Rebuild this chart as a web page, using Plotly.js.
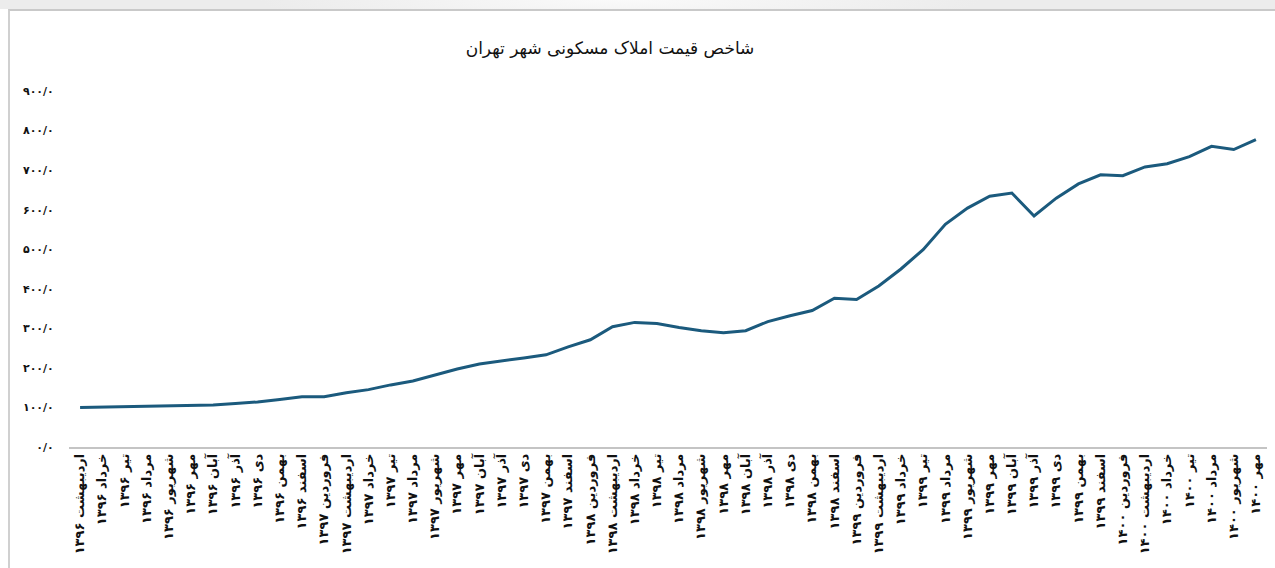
<!DOCTYPE html>
<html>
<head>
<meta charset="utf-8">
<script src="https://cdn.plot.ly/plotly-3.0.1.min.js"></script>
<style>
  html, body { margin: 0; padding: 0; background: #ffffff; }
  #wrap { position: relative; width: 1275px; height: 568px; overflow: hidden; }
  #strip { position: absolute; left: 0; top: 0; width: 1275px; height: 9px;
           background: radial-gradient(ellipse 360px 30px at 620px 0px, #fafafa 0%, #ececec 100%); }
  #frame { position: absolute; left: 8px; top: 9px; width: 1275px; height: 568px;
           border-top: 2px solid #c9c9c9; border-left: 2px solid #d0d0d0; box-sizing: border-box; }
  #chart { position: absolute; left: 0; top: 0; width: 1275px; height: 568px; }
</style>
</head>
<body>
<div id="wrap">
  <div id="strip"></div>
  <div id="frame"></div>
  <div id="chart"></div>
</div>
<script>
const titleText = "شاخص قیمت املاک مسکونی شهر تهران";

const monthLabels = [
  "اردیبهشت ۱۳۹۶","خرداد ۱۳۹۶","تیر ۱۳۹۶","مرداد ۱۳۹۶","شهریور ۱۳۹۶","مهر ۱۳۹۶",
  "آبان ۱۳۹۶","آذر ۱۳۹۶","دی ۱۳۹۶","بهمن ۱۳۹۶","اسفند ۱۳۹۶",
  "فروردین ۱۳۹۷","اردیبهشت ۱۳۹۷","خرداد ۱۳۹۷","تیر ۱۳۹۷","مرداد ۱۳۹۷","شهریور ۱۳۹۷",
  "مهر ۱۳۹۷","آبان ۱۳۹۷","آذر ۱۳۹۷","دی ۱۳۹۷","بهمن ۱۳۹۷","اسفند ۱۳۹۷",
  "فروردین ۱۳۹۸","اردیبهشت ۱۳۹۸","خرداد ۱۳۹۸","تیر ۱۳۹۸","مرداد ۱۳۹۸","شهریور ۱۳۹۸",
  "مهر ۱۳۹۸","آبان ۱۳۹۸","آذر ۱۳۹۸","دی ۱۳۹۸","بهمن ۱۳۹۸","اسفند ۱۳۹۸",
  "فروردین ۱۳۹۹","اردیبهشت ۱۳۹۹","خرداد ۱۳۹۹","تیر ۱۳۹۹","مرداد ۱۳۹۹","شهریور ۱۳۹۹",
  "مهر ۱۳۹۹","آبان ۱۳۹۹","آذر ۱۳۹۹","دی ۱۳۹۹","بهمن ۱۳۹۹","اسفند ۱۳۹۹",
  "فروردین ۱۴۰۰","اردیبهشت ۱۴۰۰","خرداد ۱۴۰۰","تیر ۱۴۰۰","مرداد ۱۴۰۰","شهریور ۱۴۰۰",
  "مهر ۱۴۰۰"
];

const priceIndex = [
  100, 101, 102, 103, 104, 105, 106, 110, 114, 120, 127,
  127, 137, 145, 157, 167, 182, 197, 210, 217, 225, 233, 253,
  271, 304, 315, 312, 302, 294, 289, 294, 317, 332, 345, 376,
  373, 407, 450, 499, 563, 604, 634, 642, 584, 629, 665, 688,
  686, 708, 716, 734, 760, 752, 777
];

const yTickVals = [0, 100, 200, 300, 400, 500, 600, 700, 800, 900];
const yTickText = ["۰/۰","۱۰۰/۰","۲۰۰/۰","۳۰۰/۰","۴۰۰/۰","۵۰۰/۰","۶۰۰/۰","۷۰۰/۰","۸۰۰/۰","۹۰۰/۰"];

const trace = {
  type: "scatter",
  mode: "lines",
  x: monthLabels,
  y: priceIndex,
  line: { color: "#1b5a7d", width: 3 },
  hoverinfo: "x+y"
};

const layout = {
  width: 1275,
  height: 568,
  margin: { l: 69, r: 8, t: 91, b: 121 },
  paper_bgcolor: "rgba(0,0,0,0)",
  plot_bgcolor: "rgba(0,0,0,0)",
  showlegend: false,
  font: { family: "DejaVu Sans, sans-serif", color: "#111111" },
  title: {
    text: titleText,
    font: { size: 17, color: "#111111", family: "DejaVu Sans, sans-serif" },
    x: 0.4516, xanchor: "center", xref: "paper",
    y: 0.915, yanchor: "middle", yref: "container"
  },
  xaxis: {
    type: "category",
    tickmode: "array",
    tickvals: monthLabels,
    ticktext: monthLabels.map(s => "<b>" + s + "</b>"),
    tickangle: -90,
    tickfont: { size: 13, color: "#111111" },
    showline: true,
    linecolor: "#c4c4c4",
    linewidth: 1.5,
    showgrid: false,
    zeroline: false,
    ticks: "",
    range: [-0.5, 53.5],
    fixedrange: true
  },
  yaxis: {
    range: [0, 900],
    tickmode: "array",
    tickvals: yTickVals,
    ticktext: yTickText.map(s => "<b>" + s + "</b>"),
    tickfont: { size: 11, color: "#111111" },
    showgrid: false,
    zeroline: false,
    showline: false,
    ticks: "outside",
    ticklen: 12,
    tickcolor: "rgba(0,0,0,0)",
    fixedrange: true
  }
};

Plotly.newPlot("chart", [trace], layout, { displayModeBar: false, staticPlot: true });
</script>
</body>
</html>
